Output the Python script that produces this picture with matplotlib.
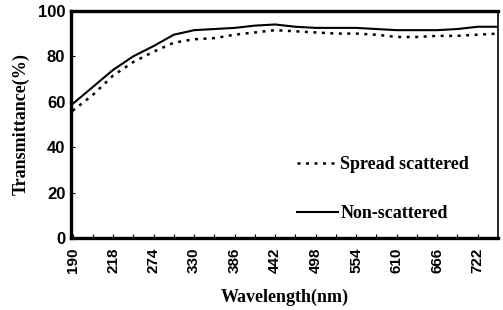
import numpy as np
import matplotlib
matplotlib.use('Agg')
from matplotlib import pyplot as plt

# tick labels (equally spaced categories on the x axis)
wl_labels = ['190', '218', '274', '330', '386', '442', '498', '554', '610', '666', '722']
# sample positions, half a label step apart
pos = np.arange(0, 10.51, 0.5)

non_scattered = [59, 66.5, 74, 80, 84.5, 89.5, 91.5, 92, 92.5, 93.5, 94,
                 93, 92.5, 92.5, 92.5, 92, 91.5, 91.5, 91.5, 92, 93, 93]
spread_scattered = [56, 63, 71.5, 77.5, 82, 86, 87.5, 88, 89.5, 90.5, 91.5,
                    91, 90.5, 90, 90, 89.5, 88.5, 88.5, 89, 89, 89.5, 90]

serif = {'family': 'Liberation Serif', 'weight': 'bold'}
sans = {'family': 'Liberation Sans', 'weight': 'bold'}

fig = plt.figure(figsize=(5.03, 3.10), dpi=100)
ax = fig.add_axes([0.141, 0.232, 0.849, 0.733])

ax.plot(pos, spread_scattered, color='black', linewidth=1.8,
        linestyle=(0, (1.2, 2.2)), label='Spread scattered')
ax.plot(pos, non_scattered, color='black', linewidth=1.5, label='Non-scattered')

ax.set_xlim(-0.04, 10.5)
ax.set_ylim(0, 100)
ax.set_xticks(range(len(wl_labels)))
ax.set_xticklabels(wl_labels, rotation=90, fontdict=sans, fontsize=11)
ax.set_xticks(np.arange(0.5, 10.5, 1), minor=True)
ax.set_yticks(range(0, 101, 20))
ax.set_yticklabels([str(v) for v in range(0, 101, 20)], fontdict=sans, fontsize=12)
ax.tick_params(axis='both', which='both', direction='in', length=3, width=0.8)
ax.tick_params(axis='x', pad=7)
ax.tick_params(axis='y', pad=4)

for s in ['left', 'bottom', 'top']:
    ax.spines[s].set_linewidth(2.4)
ax.spines['right'].set_linewidth(1.2)

ax.set_xlabel('Wavelength(nm)', fontdict=serif, fontsize=13, labelpad=11)
ax.set_ylabel('Transmittance(%)', fontdict=serif, fontsize=13, labelpad=6)

ax.legend(loc='upper left', bbox_to_anchor=(0.529, 0.36), frameon=False,
          borderpad=0, borderaxespad=0, handlelength=2.3, handletextpad=0.1,
          labelspacing=1.75, prop={'family': 'Liberation Serif', 'weight': 'bold', 'size': 13})

fig.savefig('out.png', dpi=100)
